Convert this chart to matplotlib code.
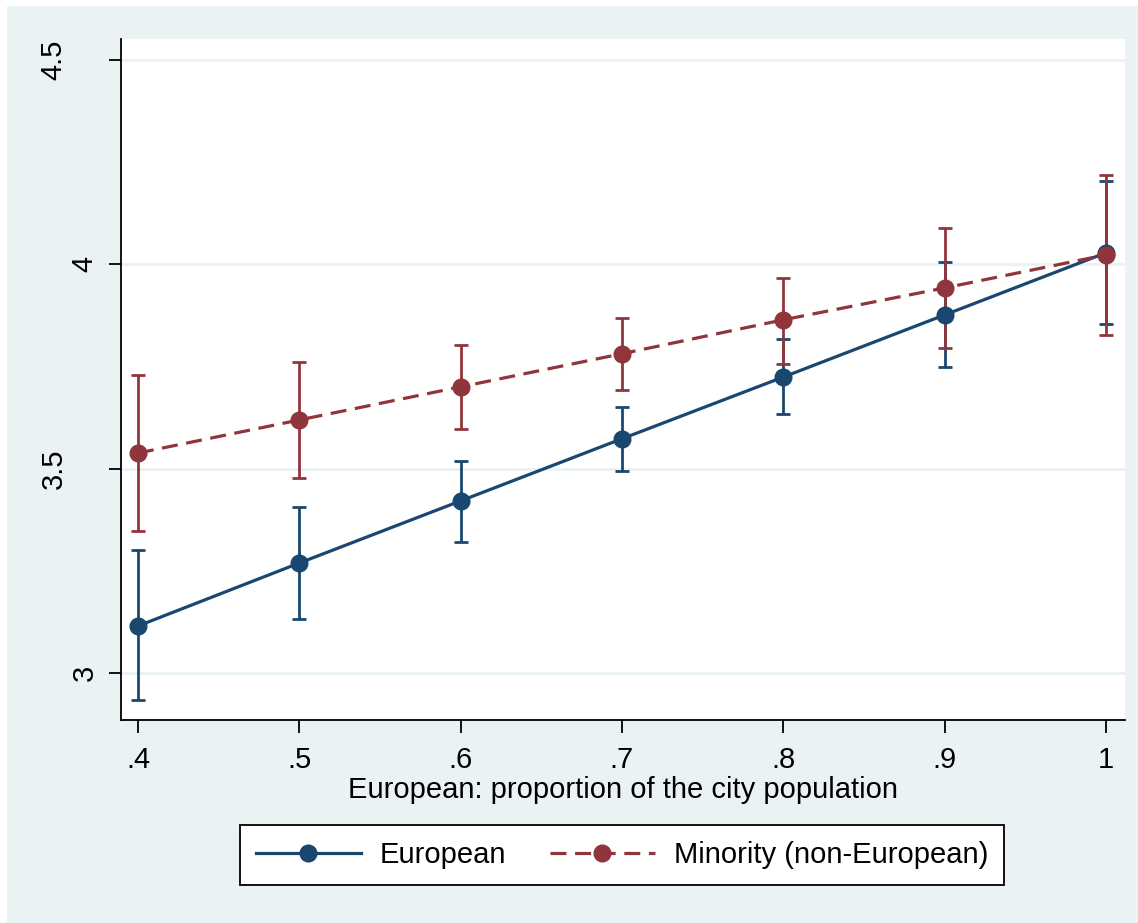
import matplotlib.pyplot as plt
import matplotlib.transforms as mtransforms
from matplotlib.lines import Line2D

plt.rcParams['font.family'] = ['Liberation Sans', 'DejaVu Sans']

# data
share = [0.4, 0.5, 0.6, 0.7, 0.8, 0.9, 1.0]
eur = [3.115, 3.269, 3.421, 3.573, 3.724, 3.876, 4.028]
eur_lo = [2.934, 3.132, 3.320, 3.494, 3.634, 3.749, 3.854]
eur_hi = [3.300, 3.406, 3.519, 3.651, 3.817, 4.005, 4.204]
mino = [3.538, 3.619, 3.700, 3.781, 3.864, 3.942, 4.023]
mino_lo = [3.347, 3.477, 3.597, 3.692, 3.756, 3.795, 3.827]
mino_hi = [3.729, 3.761, 3.803, 3.869, 3.966, 4.089, 4.218]
xticks = [0.4, 0.5, 0.6, 0.7, 0.8, 0.9, 1.0]
xlabels = ['.4', '.5', '.6', '.7', '.8', '.9', '1']
yticks = [3, 3.5, 4, 4.5]
ylabels = ['3', '3.5', '4', '4.5']

bg = '#EAF2F3'
c_eur = '#1A476F'
c_min = '#90353B'
dash = (0, (5, 2.7))

fig = plt.figure(figsize=(11.38, 9.23), dpi=100)
fig.patch.set_facecolor('white')
fig.patches.append(plt.Rectangle((7 / 1138, 0), 1, 1 - 6 / 923, transform=fig.transFigure,
                                 facecolor=bg, edgecolor='none', zorder=-10))
ax = fig.add_axes([121 / 1138, 1 - 720 / 923, 1004 / 1138, 681 / 923])
ax.set_facecolor('white')

for y in yticks:
    ax.axhline(y, color=bg, lw=2, zorder=0)

# error bars
ax.errorbar(share, eur, yerr=[[m - l for m, l in zip(eur, eur_lo)], [h - m for m, h in zip(eur, eur_hi)]],
            fmt='none', ecolor=c_eur, elinewidth=2, capsize=5, capthick=2, zorder=2)
ax.errorbar(share, mino, yerr=[[m - l for m, l in zip(mino, mino_lo)], [h - m for m, h in zip(mino, mino_hi)]],
            fmt='none', ecolor=c_min, elinewidth=2, capsize=5, capthick=2, zorder=2)
ax.plot(share, eur, color=c_eur, lw=2.3, marker='o', ms=12, zorder=3)
ax.plot(share, mino, color=c_min, lw=2.3, ls=dash, marker='o', ms=12, zorder=4)

ax.set_xlim(0.3895, 1.0118)
ax.set_ylim(2.885, 4.551)
ax.set_xticks(xticks)
ax.set_xticklabels(xlabels, fontsize=21)
ax.set_yticks(yticks)
ax.set_yticklabels(ylabels, fontsize=21, rotation=90, va='center')
ax.tick_params(axis='both', length=9, width=1.3, color='black', pad=7)
ax.tick_params(axis='x', pad=10)
# Stata places the decimal labels further left than the integer ones
for lab in ax.get_yticklabels():
    if '.' in lab.get_text():
        lab.set_transform(lab.get_transform() + mtransforms.ScaledTranslation(-0.31, 0, fig.dpi_scale_trans))
for s in ['top', 'right']:
    ax.spines[s].set_visible(False)
for s in ['left', 'bottom']:
    ax.spines[s].set_linewidth(1.3)
    ax.spines[s].set_color('black')
ax.set_xlabel('European: proportion of the city population', fontsize=21, labelpad=1)

handles = [Line2D([], [], color=c_eur, lw=2.3, marker='o', ms=12),
           Line2D([], [], color=c_min, lw=2.3, ls=dash, marker='o', ms=12)]
leg = fig.legend(handles, ['European', 'Minority (non-European)'], loc='center',
                 bbox_to_anchor=(622 / 1138, 1 - 855 / 923), ncol=2, fontsize=21,
                 frameon=True, fancybox=False, edgecolor='black', framealpha=1, handlelength=3.6,
                 columnspacing=1.5, borderpad=0.55, handletextpad=0.65, borderaxespad=0)
leg.get_frame().set_linewidth(1.3)

fig.savefig('out.png', dpi=100)
